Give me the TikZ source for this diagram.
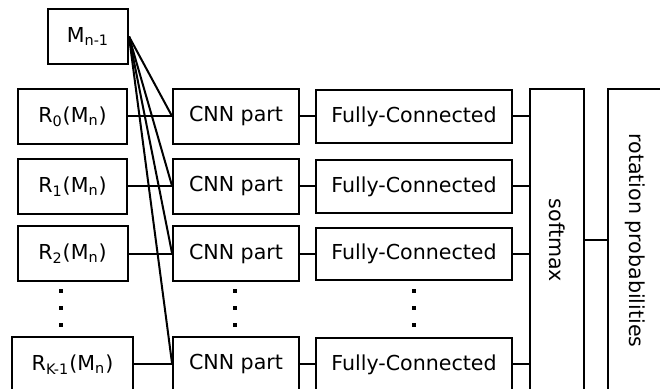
\documentclass[tikz,border=0pt]{standalone}
\usepackage{fontspec}
\setmainfont{DejaVu Sans}
\usepackage{tikz}

\begin{document}
\begin{tikzpicture}[x=0.5pt,y=-0.5pt,line width=1pt,
		box/.style={draw,inner sep=0pt,minimum height=27.5pt,font=\fontsize{10.3}{12}\selectfont},
		tallbox/.style={draw,inner sep=0pt,minimum width=27pt,minimum height=151pt,font=\fontsize{10.3}{12}\selectfont}]
			\clip (0,0) rectangle (660,389);
			
			% previous model
			\node[box,minimum width=40pt] (mprev) at (88,36.5) {M\textsubscript{n-1}};
			
			% rows
			\foreach \i/\y/\sub/\w in {0/116.5/0/54.7pt,1/186.5/1/54.7pt,2/254/2/55pt,3/364.5/K-1/60.5pt} {
				\node[box,minimum width=\w] (rot\i) at (72.5,\y) {R\textsubscript{\sub}(M\textsubscript{n})};
				\node[box,minimum width=62.8pt] (cnn\i) at (236,\y) {CNN part};
				\node[box,minimum width=98pt,minimum height=26.25pt] (fc\i) at (414,\y) {Fully-Connected};
			}
			
			% softmax and output
			\node[tallbox] (soft) at (557,240.5) {\rotatebox{-90}{softmax}};
			\node[tallbox,minimum width=27pt] (prob) at (635,240.5) {\rotatebox{-90}{rotation probabilities}};
			
			% dots
			\foreach \x in {61,235,414}
				\foreach \y in {291,308,325}
					\fill (\x-2.3,\y-2.3) rectangle (\x+2.3,\y+2.3);
			
			% connections
			\foreach \i in {0,1,2,3} {
				\draw (mprev.east) -- (cnn\i.west);
				\draw (rot\i.east) -- (cnn\i.west);
				\draw (cnn\i.east) -- (fc\i.west);
				\draw (fc\i.east) -- (fc\i.east -| soft.west);
			}
			\draw (soft) -- (prob);
		\end{tikzpicture}
\end{document}
